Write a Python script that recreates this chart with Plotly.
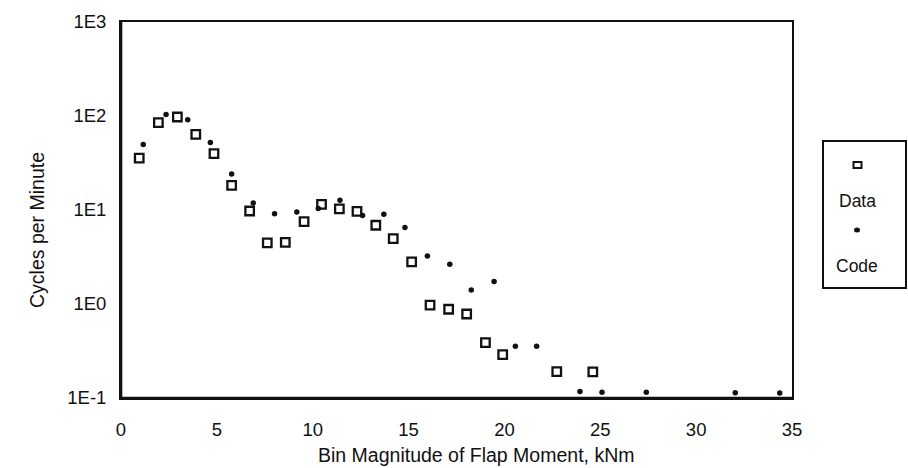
import plotly.graph_objects as go

# Measured cycle counts per bin of flap bending moment
data_moment = [0.95, 1.95, 2.94, 3.90, 4.85, 5.77, 6.71, 7.63, 8.57, 9.55, 10.46, 11.39,
               12.31, 13.29, 14.20, 15.16, 16.12, 17.09, 18.03, 19.01, 19.91, 22.73, 24.61]
data_cycles = [35.7, 85.1, 97.6, 63.9, 39.8, 18.3, 9.76, 4.46, 4.53, 7.53, 11.5, 10.3,
               9.68, 6.88, 4.96, 2.80, 0.975, 0.879, 0.783, 0.388, 0.290, 0.191, 0.190]

# Simulation code predictions
code_moment = [1.16, 2.35, 3.48, 4.66, 5.77, 6.90, 8.01, 9.17, 10.29, 11.42, 12.60, 13.71,
               14.81, 15.98, 17.15, 18.27, 19.46, 20.57, 21.68, 23.94, 25.09, 27.40, 32.04, 34.36]
code_cycles = [49.6, 103.5, 91.5, 52.1, 24.2, 11.9, 9.15, 9.52, 10.4, 12.7, 8.72, 9.0,
               6.50, 3.24, 2.64, 1.41, 1.74, 0.355, 0.355, 0.117, 0.115, 0.115, 0.114, 0.113]

y_tickvals = [0.1, 1, 10, 100, 1000]
y_ticktext = ["1E-1", "1E0", "1E1", "1E2", "1E3"]
legend_names = ["Data", "Code"]
x_title = "Bin Magnitude of Flap Moment, kNm"
y_title = "Cycles per Minute"

W, H = 908, 468
L, R, T, B = 121, 792, 22, 398
INK = "#111111"
FONT = "Liberation Sans, Arial, sans-serif"

fig = go.Figure()
fig.add_trace(go.Scatter(
    x=data_moment, y=data_cycles, mode="markers", name=legend_names[0],
    marker=dict(symbol="square-open", size=8.5, color=INK, line=dict(width=2.3, color=INK)),
    cliponaxis=False,
))
fig.add_trace(go.Scatter(
    x=code_moment, y=code_cycles, mode="markers", name=legend_names[1],
    marker=dict(symbol="circle", size=5.5, color=INK, line=dict(width=0)),
    cliponaxis=False,
))


def px(xp):
    return (xp - L) / (R - L)


def py(yp):
    return (B - yp) / (B - T)


shapes = []
# heavier left and bottom frame edges
shapes.append(dict(type="line", xref="paper", yref="paper", x0=0, x1=0, y0=0, y1=1,
                   line=dict(color=INK, width=2.6)))
shapes.append(dict(type="line", xref="paper", yref="paper", x0=0, x1=1, y0=0, y1=0,
                   line=dict(color=INK, width=2.6)))
# legend box
shapes.append(dict(type="rect", xref="paper", yref="paper",
                   x0=px(823), x1=px(906), y0=py(288), y1=py(141),
                   line=dict(color=INK, width=2), fillcolor="white"))
# legend symbols
shapes.append(dict(type="rect", xref="paper", yref="paper",
                   x0=px(853.5), x1=px(861.5), y0=py(168), y1=py(162),
                   line=dict(color=INK, width=2)))
shapes.append(dict(type="circle", xref="paper", yref="paper",
                   x0=px(854), x1=px(860), y0=py(232.5), y1=py(227.5),
                   fillcolor=INK, line=dict(color=INK, width=0)))

annotations = [
    dict(text=legend_names[0], xref="paper", yref="paper", x=px(857), y=py(201),
         showarrow=False, xanchor="center", yanchor="middle",
         font=dict(family=FONT, size=17.5, color=INK)),
    dict(text=legend_names[1], xref="paper", yref="paper", x=px(857), y=py(266),
         showarrow=False, xanchor="center", yanchor="middle",
         font=dict(family=FONT, size=17.5, color=INK)),
    # axis titles
    dict(text=x_title, xref="paper", yref="paper", x=px(476), y=py(455),
         showarrow=False, xanchor="center", yanchor="middle",
         font=dict(family=FONT, size=19.5, color=INK)),
    dict(text=y_title, xref="paper", yref="paper", x=px(37), y=py(230),
         showarrow=False, xanchor="center", yanchor="middle", textangle=-90,
         font=dict(family=FONT, size=19.5, color=INK)),
]

fig.update_layout(
    width=W, height=H,
    margin=dict(l=L, r=W - R, t=T, b=H - B, pad=0),
    paper_bgcolor="white", plot_bgcolor="white",
    showlegend=False,
    font=dict(family=FONT, color=INK, size=18.5),
    shapes=shapes,
    annotations=annotations,
    xaxis=dict(
        range=[0, 35], dtick=5, tick0=0,
        showgrid=False, zeroline=False,
        showline=True, mirror=True, linecolor=INK, linewidth=1.8,
        ticks="", ticklabelstandoff=14,
        tickfont=dict(family=FONT, size=18.5, color=INK),
    ),
    yaxis=dict(
        type="log", range=[-1, 3],
        tickvals=y_tickvals, ticktext=y_ticktext,
        showgrid=False, zeroline=False,
        showline=True, mirror=True, linecolor=INK, linewidth=1.8,
        ticks="", ticklabelstandoff=9,
        tickfont=dict(family=FONT, size=18.5, color=INK),
    ),
)

fig.write_html("out.html")
